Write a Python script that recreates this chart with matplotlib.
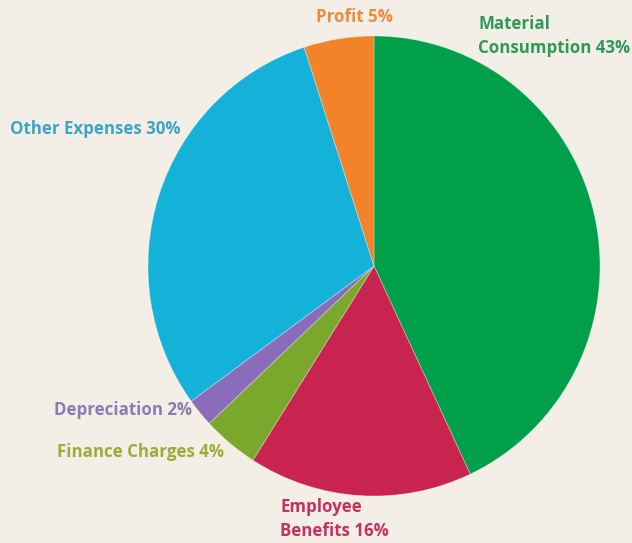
import matplotlib.pyplot as plt

# Cost structure shares (percent), clockwise from the top
categories = ['Material\nConsumption', 'Employee\nBenefits', 'Finance Charges',
              'Depreciation', 'Other Expenses', 'Profit']
shares = [43, 16, 4, 2, 30, 5]
wedge_colors = ['#00a04b', '#c9234f', '#7aa82c', '#8a6cba', '#14b2d9', '#f2832a']
label_colors = ['#2e9a5a', '#c43260', '#9aac3c', '#8a7cb4', '#3aa6c8', '#ef8a3c']

W, H = 632, 543
bg = '#f4efe6'

fig = plt.figure(figsize=(W / 100, H / 100), dpi=100, facecolor=bg)
ax = fig.add_axes([0, 0, 1, 1])
ax.set_facecolor(bg)

# pie centre and radius in pixels (slightly taller than wide)
cx, cy, rx, ry = 374, 266, 226, 230
yscale = ry / rx
ax.pie(shares, colors=wedge_colors, startangle=90, counterclock=False,
       center=(cx, (H - cy) / yscale), radius=rx,
       wedgeprops=dict(linewidth=0.6, edgecolor=(1, 1, 1, 0.35)))
ax.set_aspect('auto')
ax.set_xlim(0, W)
ax.set_ylim(0, H / yscale)
ax.axis('off')


def px(x, y):
    return x / W, 1 - y / H


font = dict(family=['Open Sans', 'DejaVu Sans'], fontweight='bold', fontsize=12.2)
labels = [f'{c} {v}%' for c, v in zip(categories, shares)]

# label anchor points in pixels: (x, y, horizontal alignment)
spots = [(478, 36, 'left'), (280, 519, 'left'), (57, 452, 'left'),
         (54, 410, 'left'), (10, 129, 'left'), (354, 17, 'center')]

for text, col, (x, y, ha) in zip(labels, label_colors, spots):
    fig.text(*px(x, y), text, color=col, ha=ha, va='center',
             linespacing=1.4, **font)

fig.savefig('out.png', dpi=100, facecolor=bg)
